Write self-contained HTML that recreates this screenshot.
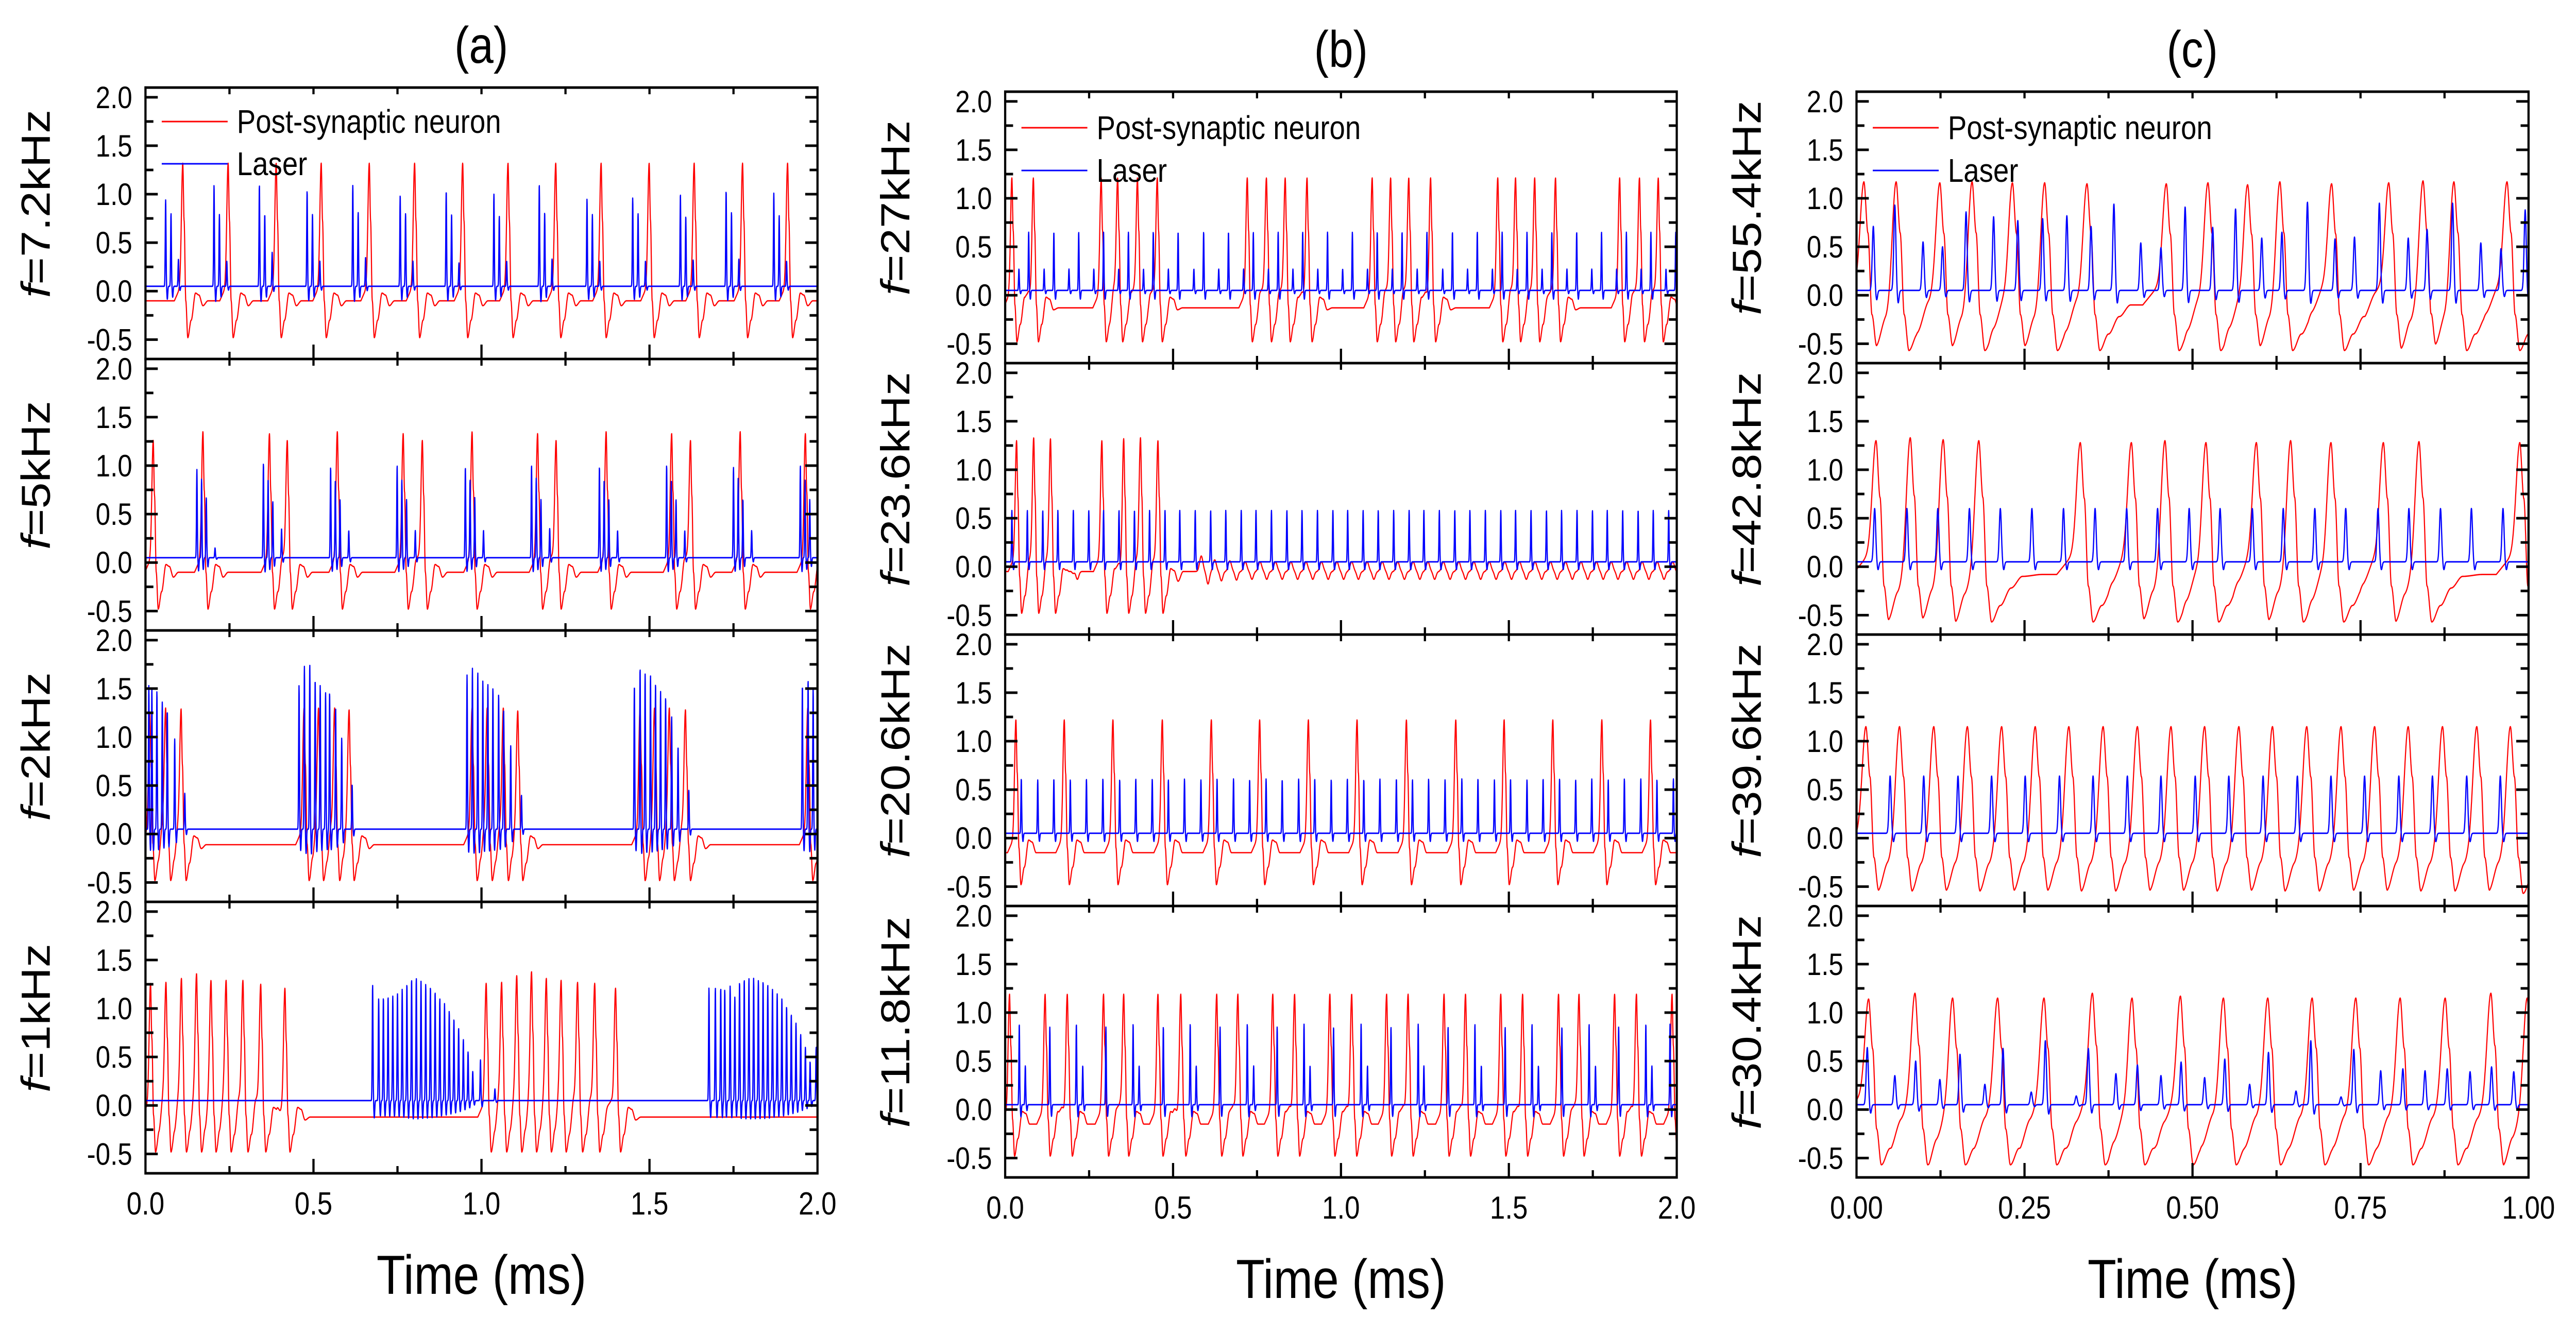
<!DOCTYPE html>
<html><head><meta charset="utf-8"><title>Neuron vs Laser</title>
<style>
html,body{margin:0;padding:0;background:#fff;width:100%;height:100%;overflow:hidden;}
svg{display:block;position:absolute;left:0;top:0;width:100vw;height:100vh;font-family:"Liberation Sans",Arial,sans-serif;}
</style></head>
<body>
<svg id="fig" xmlns="http://www.w3.org/2000/svg" viewBox="0 0 5861 2590" preserveAspectRatio="none"></svg>
<script>
// ===== data (times in ms, values in arb. units) =====
const yTicks = [-0.5, 0, 0.5, 1.0, 1.5, 2.0];
const xTicksAB = [0, 0.5, 1.0, 1.5, 2.0];
const xTicksC = [0, 0.25, 0.5, 0.75, 1.0];
const colTitles = ["(a)", "(b)", "(c)"];
const freqLabels = [["7.2kHz","5kHz","2kHz","1kHz"],["27kHz","23.6kHz","20.6kHz","11.8kHz"],["55.4kHz","42.8kHz","39.6kHz","30.4kHz"]];

// (a) f=7.2kHz
const redTA1 = [0.111,0.246,0.389,0.523,0.666,0.801,0.944,1.079,1.221,1.356,1.499,1.633,1.777,1.911];
const redVA1 = [1.32,1.32,1.32,1.32,1.32,1.32,1.32,1.32,1.32,1.32,1.32,1.32,1.32,1.32];
const blueTA1 = [0.060,0.076,0.098,0.204,0.220,0.242,0.339,0.355,0.377,0.481,0.497,0.519,0.617,0.633,0.655,0.758,0.774,0.796,0.895,0.911,0.933,1.037,1.053,1.075,1.172,1.188,1.210,1.314,1.330,1.352,1.450,1.466,1.488,1.592,1.608,1.630,1.728,1.744,1.766,1.870,1.886,1.908];
const blueVA1 = [0.89,0.75,0.28,1.04,0.74,0.26,1.04,0.74,0.35,0.98,0.74,0.26,1.04,0.76,0.30,0.94,0.75,0.26,0.98,0.74,0.24,0.95,0.72,0.26,1.05,0.76,0.28,0.90,0.74,0.26,0.91,0.75,0.26,0.95,0.72,0.27,0.98,0.76,0.28,0.96,0.73,0.26];
// (a) f=5kHz
const redTA2 = [0.023,0.171,0.369,0.422,0.571,0.767,0.824,0.972,1.167,1.222,1.371,1.566,1.622,1.770,1.964];
const redVA2 = [1.26,1.35,1.33,1.26,1.35,1.33,1.26,1.35,1.33,1.26,1.35,1.33,1.26,1.35,1.33];
const blueTA2 = [0.153,0.167,0.181,0.207,0.351,0.365,0.379,0.405,0.551,0.565,0.579,0.605,0.749,0.763,0.777,0.803,0.952,0.966,0.980,1.006,1.149,1.163,1.177,1.203,1.351,1.365,1.379,1.405,1.551,1.565,1.579,1.605,1.750,1.764,1.778,1.804,1.949,1.963,1.977];
const blueVA2 = [0.91,0.81,0.62,0.10,0.97,0.81,0.58,0.30,0.93,0.80,0.60,0.28,0.95,0.80,0.60,0.28,0.93,0.80,0.62,0.28,0.95,0.82,0.60,0.30,0.93,0.80,0.60,0.28,0.95,0.80,0.60,0.28,0.93,0.82,0.60,0.28,0.95,0.80,0.60];
// (a) f=2kHz
const redTA3 = [0.013,0.060,0.106,0.472,0.515,0.563,0.606,0.972,1.017,1.065,1.108,1.472,1.515,1.559,1.607,1.971];
const redVA3 = [1.24,1.30,1.29,1.30,1.30,1.30,1.28,1.30,1.30,1.30,1.27,1.30,1.30,1.30,1.28,1.30];
const blueTA3 = [0.010,0.019,0.034,0.050,0.065,0.087,0.117,0.457,0.473,0.489,0.505,0.520,0.536,0.548,0.566,0.584,0.615,0.957,0.973,0.989,1.004,1.019,1.034,1.051,1.066,1.087,1.119,1.455,1.472,1.487,1.503,1.518,1.533,1.548,1.566,1.585,1.617,1.955,1.972,1.987];
const blueVA3 = [1.48,1.46,1.42,1.31,1.22,0.93,0.37,1.48,1.68,1.70,1.54,1.48,1.41,1.41,1.24,0.94,0.46,1.59,1.66,1.62,1.53,1.50,1.45,1.39,1.22,0.86,0.35,1.48,1.66,1.60,1.58,1.50,1.42,1.36,1.16,0.85,0.40,1.48,1.54,1.45];
// (a) f=1kHz
const redTA4 = [0.015,0.061,0.107,0.152,0.195,0.240,0.290,0.343,0.415,1.014,1.060,1.105,1.149,1.193,1.237,1.286,1.337,1.399];
const redVA4 = [1.26,1.27,1.31,1.36,1.29,1.29,1.29,1.25,1.21,1.26,1.27,1.34,1.38,1.31,1.29,1.27,1.26,1.21];
const blueTA4 = [0.676,0.694,0.708,0.722,0.736,0.750,0.764,0.778,0.792,0.806,0.820,0.834,0.848,0.862,0.876,0.890,0.904,0.918,0.932,0.946,0.960,0.974,0.997,1.040,1.677,1.696,1.712,1.724,1.740,1.754,1.768,1.782,1.796,1.810,1.824,1.838,1.852,1.866,1.880,1.894,1.908,1.922,1.936,1.950,1.964,1.978,1.996];
const blueVA4 = [1.19,1.05,1.06,1.07,1.08,1.10,1.15,1.20,1.25,1.26,1.23,1.20,1.17,1.12,1.05,1.00,0.92,0.84,0.75,0.63,0.50,0.30,0.42,0.12,1.16,1.16,1.16,1.14,1.18,1.07,1.22,1.25,1.26,1.26,1.24,1.23,1.20,1.15,1.10,1.05,0.97,0.89,0.80,0.68,0.55,0.40,0.55];

// (b) f=27kHz
const redTB1 = [0.020,0.084,0.286,0.335,0.394,0.453,0.721,0.778,0.834,0.899,1.093,1.148,1.202,1.267,1.467,1.520,1.577,1.639,1.830,1.889,1.945];
const redVB1 = [1.21,1.21,1.21,1.21,1.21,1.21,1.21,1.21,1.21,1.21,1.21,1.21,1.21,1.21,1.21,1.21,1.21,1.21,1.21,1.21,1.21];
const blueTB1 = [0.041,0.070,0.116,0.145,0.190,0.219,0.264,0.293,0.338,0.367,0.412,0.441,0.486,0.515,0.562,0.591,0.636,0.665,0.710,0.739,0.784,0.813,0.857,0.886,0.931,0.960,1.005,1.034,1.079,1.108,1.153,1.182,1.227,1.256,1.303,1.332,1.377,1.406,1.451,1.480,1.525,1.554,1.599,1.628,1.673,1.702,1.747,1.776,1.821,1.850,1.894,1.923,1.968,1.997];
const blueVB1 = [0.22,0.60,0.22,0.60,0.22,0.60,0.22,0.60,0.22,0.60,0.22,0.60,0.22,0.60,0.22,0.60,0.22,0.60,0.22,0.60,0.22,0.60,0.22,0.60,0.22,0.60,0.22,0.60,0.22,0.60,0.22,0.60,0.22,0.60,0.22,0.60,0.22,0.60,0.22,0.60,0.22,0.60,0.22,0.60,0.22,0.60,0.22,0.60,0.22,0.60,0.22,0.60,0.22,0.60];
// (b) f=23.6kHz
const redTB2 = [0.034,0.085,0.135,0.288,0.353,0.403,0.455];
const redVB2 = [1.30,1.33,1.32,1.30,1.32,1.33,1.30];
const subTB2 = [0.195,0.584,0.624,0.669,0.715,0.759,0.805,0.851,0.896,0.942,0.988,1.032,1.078,1.123,1.169,1.215,1.259,1.305,1.351,1.396,1.442,1.488,1.532,1.578,1.624,1.669,1.715,1.761,1.805,1.851,1.897,1.942,1.988];
const subVB2 = [0.10,0.16,0.12,0.11,0.10,0.10,0.10,0.10,0.10,0.10,0.10,0.10,0.10,0.10,0.10,0.10,0.10,0.10,0.10,0.10,0.10,0.10,0.10,0.10,0.10,0.10,0.10,0.10,0.10,0.10,0.10,0.10,0.10];
const blueTB2 = [0.020,0.066,0.112,0.157,0.203,0.249,0.293,0.339,0.385,0.430,0.476,0.520,0.566,0.612,0.657,0.703,0.747,0.793,0.839,0.884,0.930,0.976,1.020,1.066,1.111,1.157,1.203,1.247,1.293,1.339,1.384,1.430,1.476,1.520,1.566,1.612,1.657,1.703,1.749,1.793,1.839,1.885,1.930,1.976];
const blueVB2 = [0.53,0.53,0.53,0.53,0.53,0.53,0.53,0.53,0.53,0.53,0.53,0.53,0.53,0.53,0.53,0.53,0.53,0.53,0.53,0.53,0.53,0.53,0.53,0.53,0.53,0.53,0.53,0.53,0.53,0.53,0.53,0.53,0.53,0.53,0.53,0.53,0.53,0.53,0.53,0.53,0.53,0.53,0.53,0.53];
// (b) f=20.6kHz
const redTB3 = [0.032,0.176,0.321,0.468,0.614,0.758,0.903,1.048,1.195,1.342,1.486,1.631,1.777,1.922];
const redVB3 = [1.22,1.22,1.22,1.22,1.22,1.22,1.22,1.22,1.22,1.22,1.22,1.22,1.22,1.22];
const blueTB3 = [0.048,0.097,0.145,0.194,0.242,0.291,0.341,0.389,0.438,0.486,0.534,0.583,0.631,0.680,0.728,0.777,0.825,0.874,0.922,0.971,1.019,1.068,1.116,1.165,1.213,1.261,1.310,1.360,1.408,1.457,1.505,1.554,1.602,1.651,1.699,1.747,1.796,1.844,1.893,1.941,1.990];
const blueVB3 = [0.56,0.55,0.56,0.55,0.56,0.56,0.55,0.56,0.56,0.55,0.56,0.55,0.56,0.56,0.55,0.56,0.55,0.56,0.56,0.55,0.56,0.55,0.56,0.56,0.55,0.56,0.55,0.56,0.56,0.55,0.56,0.55,0.56,0.56,0.55,0.56,0.55,0.56,0.56,0.55,0.56];
// (b) f=11.8kHz
const redTB4 = [0.013,0.119,0.185,0.293,0.353,0.455,0.523,0.630,0.693,0.797,0.862,0.967,1.032,1.136,1.200,1.307,1.371,1.476,1.541,1.648,1.709,1.815,1.880,1.986];
const redVB4 = [1.19,1.19,1.19,1.19,1.19,1.19,1.19,1.19,1.19,1.19,1.19,1.19,1.19,1.19,1.19,1.19,1.19,1.19,1.19,1.19,1.19,1.19,1.19,1.19];
const blueTB4 = [0.042,0.060,0.133,0.212,0.231,0.300,0.381,0.399,0.471,0.551,0.569,0.640,0.721,0.740,0.810,0.890,0.908,0.978,1.060,1.079,1.149,1.230,1.247,1.319,1.399,1.418,1.489,1.569,1.588,1.658,1.739,1.758,1.827,1.908,1.926,1.980];
const blueVB4 = [0.83,0.40,0.80,0.83,0.40,0.80,0.83,0.40,0.80,0.83,0.40,0.80,0.83,0.40,0.80,0.83,0.40,0.80,0.83,0.40,0.80,0.83,0.40,0.80,0.83,0.40,0.80,0.83,0.40,0.80,0.83,0.40,0.80,0.83,0.40,0.83];

// (c) f=55.4kHz
const redTC1 = [0.011,0.059,0.124,0.172,0.232,0.280,0.343,0.461,0.523,0.582,0.630,0.707,0.792,0.843,0.889,0.968];
const redVC1 = [1.17,1.17,1.16,1.17,1.16,1.16,1.15,1.15,1.16,1.14,1.17,1.15,1.16,1.18,1.17,1.17];
const blueTC1 = [0.025,0.057,0.099,0.128,0.163,0.204,0.240,0.277,0.313,0.349,0.383,0.423,0.453,0.489,0.530,0.564,0.603,0.633,0.671,0.712,0.741,0.778,0.821,0.849,0.887,0.929,0.959,0.995];
const blueVC1 = [0.66,0.88,0.50,0.45,0.81,0.76,0.72,0.74,0.77,0.66,0.89,0.49,0.44,0.86,0.65,0.84,0.54,0.60,0.91,0.53,0.55,0.90,0.54,0.63,0.90,0.49,0.43,0.83];
// (c) f=42.8kHz
const redTC2 = [0.029,0.080,0.129,0.182,0.333,0.409,0.459,0.520,0.595,0.646,0.706,0.784,0.837,0.987];
const redVC2 = [1.30,1.33,1.31,1.30,1.28,1.28,1.30,1.28,1.28,1.30,1.28,1.28,1.29,1.28];
const blueTC2 = [0.027,0.075,0.121,0.168,0.214,0.261,0.308,0.355,0.402,0.448,0.495,0.541,0.589,0.635,0.682,0.728,0.776,0.822,0.869,0.915,0.962];
const blueVC2 = [0.55,0.55,0.55,0.55,0.55,0.55,0.55,0.55,0.55,0.55,0.55,0.55,0.55,0.55,0.55,0.55,0.55,0.55,0.55,0.55,0.55];
// (c) f=39.6kHz
const redTC3 = [0.014,0.064,0.115,0.165,0.216,0.266,0.316,0.367,0.418,0.468,0.518,0.569,0.619,0.670,0.721,0.771,0.821,0.872,0.923,0.973];
const redVC3 = [1.15,1.15,1.15,1.15,1.15,1.15,1.15,1.15,1.15,1.15,1.15,1.15,1.15,1.15,1.15,1.15,1.15,1.15,1.15,1.15];
const blueTC3 = [0.050,0.100,0.151,0.201,0.251,0.302,0.352,0.403,0.453,0.504,0.554,0.605,0.656,0.706,0.756,0.807,0.857,0.908,0.958];
const blueVC3 = [0.59,0.59,0.59,0.59,0.59,0.59,0.59,0.59,0.59,0.59,0.59,0.59,0.59,0.59,0.59,0.59,0.59,0.59,0.59];
// (c) f=30.4kHz
const redTC4 = [0.018,0.087,0.143,0.210,0.279,0.351,0.410,0.482,0.546,0.612,0.678,0.743,0.809,0.876,0.944,0.998];
const redVC4 = [1.14,1.20,1.15,1.15,1.15,1.20,1.15,1.17,1.15,1.15,1.15,1.15,1.15,1.15,1.20,1.15];
const blueTC4 = [0.016,0.057,0.088,0.124,0.154,0.191,0.218,0.260,0.281,0.327,0.345,0.386,0.418,0.453,0.483,0.518,0.548,0.585,0.613,0.654,0.676,0.721,0.740,0.780,0.813,0.846,0.879,0.913,0.945,0.978];
const blueVC4 = [0.59,0.30,0.45,0.26,0.52,0.21,0.58,0.13,0.66,0.09,0.58,0.32,0.41,0.30,0.44,0.28,0.47,0.21,0.54,0.14,0.66,0.08,0.57,0.35,0.37,0.35,0.37,0.34,0.39,0.34];

// ===== layout =====
const NS = "http://www.w3.org/2000/svg";
const svg = document.getElementById("fig");
const COLS = [
  {x0:331, x1:1860, top:170, tmax:2},
  {x0:2287, x1:3815, top:178, tmax:2},
  {x0:4224, x1:5753, top:178, tmax:1}
];
const ROWH = 527, YMIN = -0.7, YMAX = 2.1;
function xScale(c, t){ const C = COLS[c]; return C.x0 + t / C.tmax * (C.x1 - C.x0); }
function yScale(c, r, v){ return COLS[c].top + r*ROWH + (YMAX - v) / (YMAX - YMIN) * ROWH; }
function mk(tag, attrs, parent){ const e = document.createElementNS(NS, tag); for (const k in attrs) e.setAttribute(k, attrs[k]); (parent||svg).appendChild(e); return e; }

const PANELS = [
  [[redTA1,redVA1,blueTA1,blueVA1,-0.10,null,null],[redTA2,redVA2,blueTA2,blueVA2,-0.10,null,null],[redTA3,redVA3,blueTA3,blueVA3,-0.11,null,null],[redTA4,redVA4,blueTA4,blueVA4,-0.12,null,null]],
  [[redTB1,redVB1,blueTB1,blueVB1,-0.13,null,null],[redTB2,redVB2,blueTB2,blueVB2,-0.05,subTB2,subVB2],[redTB3,redVB3,blueTB3,blueVB3,-0.15,null,null],[redTB4,redVB4,blueTB4,blueVB4,-0.15,null,null]],
  [[redTC1,redVC1,blueTC1,blueVC1,-0.10,null,null],[redTC2,redVC2,blueTC2,blueVC2,-0.08,null,null],[redTC3,redVC3,blueTC3,blueVC3,-0.15,null,null],[redTC4,redVC4,blueTC4,blueVC4,-0.05,null,null]]
];
const KAB = {dt:[0,0.004,0.009,0.015,0.025,0.038,0.048,0.060,0.075], v:[null,null,-0.10,-0.48,-0.30,-0.02,-0.04,-0.15,null], rise:0.025, w:0.0055, ramp:0.20, sig:0.0016};
const KC  = {dt:[0,0.006,0.012,0.019,0.032,0.048,0.065,0.095], v:[null,null,-0.20,-0.57,-0.40,-0.22,-0.10,null], rise:0.035, w:0.0075, ramp:0.30, sig:0.0022};

function afterShape(dt, A, base, K){
  const d = K.dt, n = d.length;
  if (dt >= d[n-1]) return base;
  const val = i => i === 0 ? A : (i === 1 ? 0.55*A : (i === n-1 ? base : K.v[i]));
  for (let i = 0; i < n-1; i++){
    if (dt >= d[i] && dt < d[i+1]){
      const f = (dt - d[i]) / (d[i+1] - d[i]);
      const s = f*f*(3-2*f);
      return val(i) + (val(i+1) - val(i)) * s;
    }
  }
  return base;
}
function redVal(t, T, V, base, K, ST, SV){
  let i = -1;
  for (let k = 0; k < T.length; k++){ if (T[k] <= t) i = k; else break; }
  let cur = i >= 0 ? afterShape(t - T[i], V[i], base, K) : base;
  if (i+1 < T.length){
    const dtn = T[i+1] - t;
    if (dtn < K.rise){
      const c2 = cur + K.ramp*(1 - dtn/K.rise);
      const r = Math.exp(-Math.pow(dtn/K.w, 2));
      cur = c2 + (V[i+1] - c2) * r;
    }
  }
  if (ST){
    for (let k = 0; k < ST.length; k++){
      const d = t - ST[k];
      if (d > -0.04 && d < 0.05){
        cur += SV[k]*Math.exp(-Math.pow(d/0.007,2)) - 0.8*SV[k]*Math.exp(-Math.pow((d-0.02)/0.006,2));
      }
    }
  }
  return cur;
}
function blueVal(t, T, V, K){
  let v = 0.05;
  for (let k = 0; k < T.length; k++){
    const d = t - T[k];
    if (d > -0.02 && d < 0.03){
      v += V[k]*Math.exp(-Math.pow(d/K.sig,2)) - 0.15*V[k]*Math.exp(-Math.pow((d-0.005)/0.0018,2));
    }
  }
  return v;
}

// ===== titles =====
const titleX = [1095, 3051, 4988], titleY = [122, 130, 130];
for (let c = 0; c < 3; c++){
  const t = mk("text", {x:titleX[c], y:titleY[c], "font-size":100, "text-anchor":"middle", fill:"#000"});
  
  
  t.textContent = colTitles[c];
}

const defs = mk("defs", {});
for (let c = 0; c < 3; c++){
  const C = COLS[c];
  const K = c === 2 ? KC : KAB;
  for (let r = 0; r < 4; r++){
    const top = C.top + r*ROWH, bot = top + ROWH;
    const g = mk("g", {});
    
    
    const cp = mk("clipPath", {id:"cp"+c+r}, defs);
    mk("rect", {x:C.x0, y:top, width:C.x1-C.x0, height:ROWH}, cp);
    const P = PANELS[c][r];
    const N = 4600, step = C.tmax / N;
    let rp = "", bp = "";
    for (let k = 0; k <= N; k++){
      const t = k*step;
      const X = xScale(c, t).toFixed(1);
      rp += (k ? "L" : "M") + X + "," + yScale(c, r, redVal(t, P[0], P[1], P[4], K, P[5], P[6])).toFixed(1);
      bp += (k ? "L" : "M") + X + "," + yScale(c, r, blueVal(t, P[2], P[3], K)).toFixed(1);
    }
    const red = mk("path", {d:rp, fill:"none", stroke:"#ff0000", "stroke-width":2.6, "stroke-linejoin":"round", "clip-path":"url(#cp"+c+r+")"}, g);
    
    
    const blue = mk("path", {d:bp, fill:"none", stroke:"#0000ff", "stroke-width":2.8, "stroke-linejoin":"round", "clip-path":"url(#cp"+c+r+")"}, g);
    
    

    for (let m = -0.5; m <= 2.001; m += 0.25){
      const y = yScale(c, r, m);
      const major = Math.abs(m*2 - Math.round(m*2)) < 1e-6;
      const L = major ? 28 : 18;
      mk("line", {x1:C.x0, x2:C.x0+L, y1:y, y2:y, stroke:"#000", "stroke-width":5}, g);
      mk("line", {x1:C.x1, x2:C.x1-L, y1:y, y2:y, stroke:"#000", "stroke-width":5}, g);
    }
    for (const v of yTicks){
      const tl = mk("text", {x:C.x0-30, y:yScale(c, r, v)+21, "font-size":60, "text-anchor":"end", fill:"#000"}, g);
      
      
      tl.textContent = v.toFixed(1);
    }
    for (let k = 1; k < 8; k++){
      const t = k * C.tmax / 8;
      const X = xScale(c, t);
      const L = (k % 2 === 0) ? 28 : 14;
      mk("line", {x1:X, x2:X, y1:bot, y2:bot-L, stroke:"#000", "stroke-width":5}, g);
      mk("line", {x1:X, x2:X, y1:top, y2:top+13, stroke:"#000", "stroke-width":5}, g);
    }
    const fr = mk("rect", {x:C.x0, y:top, width:C.x1-C.x0, height:ROWH, fill:"none", stroke:"#000", "stroke-width":5}, g);
    
    
    const yl = mk("text", {transform:"translate(" + (C.x0-218) + "," + (top + ROWH/2 - 38) + ") rotate(-90)", "font-size":92, "text-anchor":"middle", fill:"#000"}, g);
    
    
    const fi = document.createElementNS(NS, "tspan"); fi.setAttribute("font-style", "italic"); fi.textContent = "f"; yl.appendChild(fi);
    yl.appendChild(document.createTextNode("=" + freqLabels[c][r]));

    if (r === 0){
      const ly1 = top + (c === 0 ? 66 : 70), ly2 = top + (c === 0 ? 148 : 153);
      const lg = mk("g", {}, g);
      
      
      mk("line", {x1:C.x0+37, x2:C.x0+187, y1:ly1, y2:ly1, stroke:"#ff0000", "stroke-width":3}, lg);
      const t1 = mk("text", {x:C.x0+208, y:ly1+22, "font-size":64, fill:"#000"}, lg);
      
      
      t1.textContent = "Post-synaptic neuron";
      mk("line", {x1:C.x0+37, x2:C.x0+187, y1:ly2, y2:ly2, stroke:"#0000ff", "stroke-width":3}, lg);
      const t2 = mk("text", {x:C.x0+208, y:ly2+22, "font-size":64, fill:"#000"}, lg);
      
      
      t2.textContent = "Laser";
    }
  }
  const bottom = C.top + 4*ROWH;
  const xt = c === 2 ? xTicksC : xTicksAB;
  for (const t of xt){
    const tl = mk("text", {x:xScale(c, t), y:bottom+80, "font-size":62, "text-anchor":"middle", fill:"#000"});
    
    
    tl.textContent = c === 2 ? t.toFixed(2) : t.toFixed(1);
  }
  const xl = mk("text", {x:(C.x0+C.x1)/2, y:bottom+234, "font-size":107, "text-anchor":"middle", fill:"#000"});
  
  
  xl.textContent = "Time (ms)";
}
</script>
</body></html>
